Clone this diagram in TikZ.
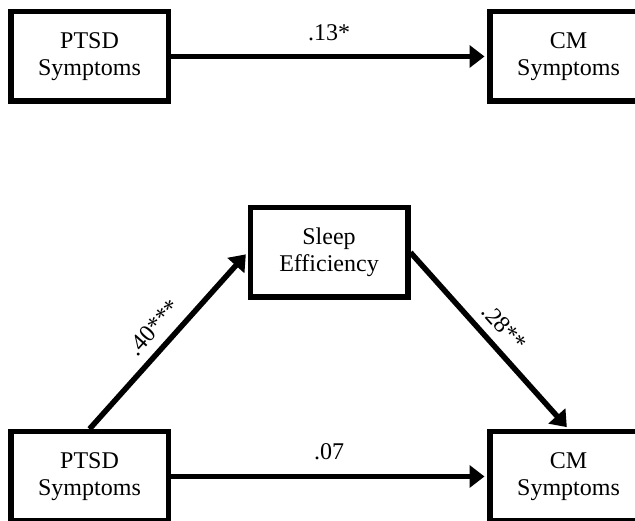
\documentclass[tikz,border=0pt]{standalone}
\usepackage{fontspec}
\setmainfont{Liberation Serif}
\usetikzlibrary{positioning,arrows.meta}

\tikzset{
  var/.style={draw, rectangle, line width=5.5pt, minimum width=157.5pt,
    minimum height=89.5pt, inner sep=0pt, align=center,
    font=\fontsize{24}{27}\selectfont},
  effect/.style={line width=5.5pt, -{Triangle[length=15pt,width=22pt]},
    shorten >=2.5pt},
  coef/.style={font=\fontsize{24}{27}\selectfont, inner sep=13pt}
}

\begin{document}
\begin{tikzpicture}[x=1pt, y=1pt, node distance=479pt, on grid]

    \useasboundingbox (0,0) rectangle (635,521);
    \clip (0,0) rectangle (635,521);

    % total effect
    \node[var] (X1) at (89.5,464.5) {PTSD\\Symptoms};
    \node[var] (Y1) [right=of X1] {CM\\Symptoms};

    % mediated model
    \node[var] (X2) at (89.5,44.5) {PTSD\\Symptoms};
    \node[var] (Y2) [right=of X2] {CM\\Symptoms};
    \node[var] (M) [above right=224pt and 239.5pt of X2] {Sleep\\Efficiency};

    \path[effect]
        (X1) edge node[coef, above] {.13*} (Y1)

        (X2.north) edge node[coef, sloped, above, inner sep=9pt] {.40***} (M.west)
        (M.east) edge node[coef, sloped, above, inner sep=9pt] {.28**} (Y2.north)

        (X2) edge node[coef, above, inner sep=14pt] {.07} (Y2);

\end{tikzpicture}
\end{document}
